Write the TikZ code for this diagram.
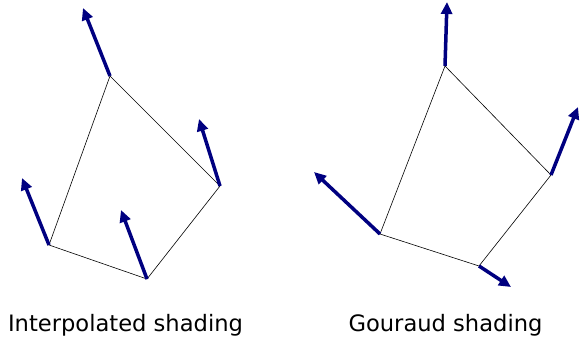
\documentclass[tikz,border=0pt]{standalone}
\usepackage{fontspec}
\setmainfont{DejaVu Sans}
\usetikzlibrary{arrows.meta}

\begin{document}
\begin{tikzpicture}[
  x=1pt,y=-1pt,
  edge/.style={draw,black,line width=0.6pt,line join=miter},
  normal/.style={draw,->,>={Triangle[length=12pt,width=11pt]},line width=3.5pt,color={rgb,255:red,0;green,0;blue,128}},
  caption/.style={font=\fontsize{22.6}{26}\selectfont,anchor=base,inner sep=0pt}
]
\useasboundingbox (0,0) rectangle (580,337);
% left polygon, interpolated normals
\coordinate (lt) at (110,76);
\coordinate (lr) at (220,186);
\coordinate (lb) at (147,279);
\coordinate (ll) at (49,245);
\coordinate (ltn) at (83,8);
\coordinate (lrn) at (199,119);
\coordinate (lbn) at (121,210);
\coordinate (lln) at (22,178);
% right polygon, vertex normals
\coordinate (rt) at (445,66);
\coordinate (rr) at (551,175);
\coordinate (rb) at (479,266);
\coordinate (rl) at (380,234);
\coordinate (rtn) at (447,2);
\coordinate (rrn) at (578,107);
\coordinate (rbn) at (511,287);
\coordinate (rln) at (314,172);

% edges
\draw[edge] (lt) -- (lr) -- (lb) -- (ll) -- cycle;
\draw[edge] (rt) -- (rr) -- (rb) -- (rl) -- cycle;

% normals
\draw[normal] (lt) -- (ltn);
\draw[normal] (lr) -- (lrn);
\draw[normal] (lb) -- (lbn);
\draw[normal] (ll) -- (lln);
\draw[normal] (rt) -- (rtn);
\draw[normal] (rr) -- (rrn);
\draw[normal] (rb) -- (rbn);
\draw[normal] (rl) -- (rln);

% captions
\node[caption] (interp) at (125.5,331) {Interpolated shading};
\node[caption] (gouraud) at (445.5,331) {Gouraud shading};
\end{tikzpicture}
\end{document}
